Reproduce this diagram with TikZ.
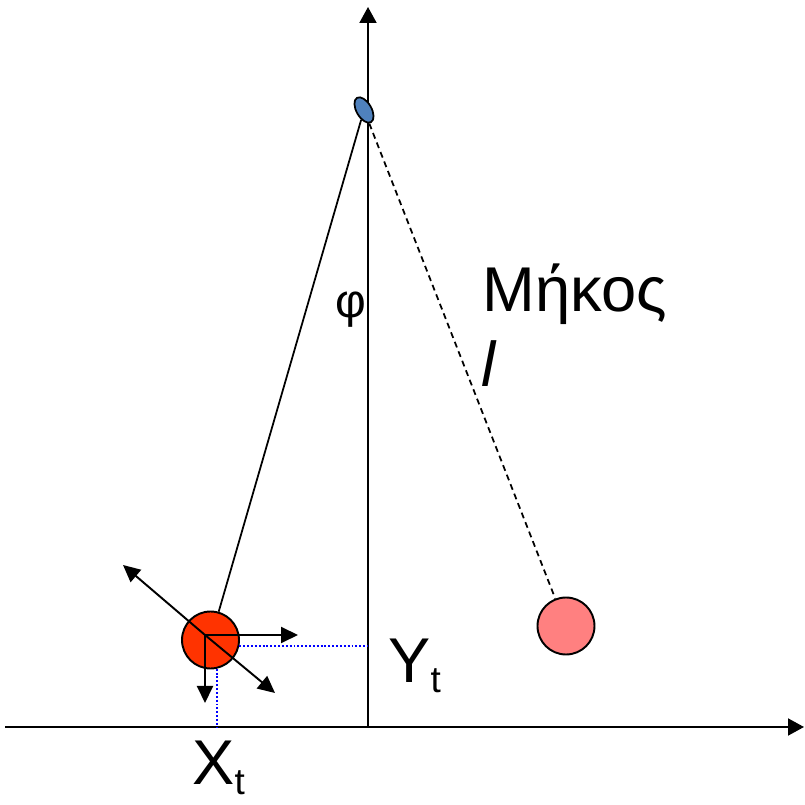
\documentclass[tikz,border=0pt]{standalone}
\usepackage{fontspec}
\setmainfont{Liberation Sans}
\usepackage{tikz}
\usetikzlibrary{arrows.meta,positioning,calc,shapes.geometric}
\definecolor{bobred}{RGB}{255,51,0}
\definecolor{bobpink}{RGB}{255,128,128}
\definecolor{pivotblue}{RGB}{79,129,189}
\newcommand{\lowsub}[1]{\raisebox{-0.2cm}{\fontsize{21}{21}\selectfont #1}}
\tikzset{
  axisline/.style={-{Triangle[length=0.32cm,width=0.34cm]},line width=1.1pt},
  forcearrow/.style={-{Triangle[length=0.34cm,width=0.32cm]},line width=1.1pt},
  bobnode/.style={draw,circle,line width=1.1pt,minimum size=1.14cm,inner sep=0pt},
  pivotdot/.style={draw,ellipse,fill=pivotblue,line width=1pt,minimum width=0.3cm,
    minimum height=0.56cm,inner sep=0pt},
  projline/.style={draw=blue,dash pattern=on 1.1pt off 1.1pt,line width=1.1pt},
  stringline/.style={line width=1pt},
  biglabel/.style={font=\fontsize{36}{40}\selectfont,inner sep=0pt}
}

\begin{document}
\begin{tikzpicture}
  \useasboundingbox (0,0) rectangle (16.1,16.1);
  % axes
  \coordinate (origin) at (7.36,1.56);
  \coordinate (xleft) at (0.1,1.56);
  \coordinate (xright) at (16.08,1.56);
  \coordinate (ytop) at (7.36,15.96);
  \draw[axisline] (xleft) -- (xright);
  \draw[axisline] (origin) -- (ytop);
  % pivot and the two bobs
  \node[pivotdot,rotate=30] (pivot) at (7.28,13.9) {};
  \node[bobnode,fill=bobred] (bobL) at (4.21,3.3) {};
  \node[bobnode,fill=bobpink] (bobR) at (11.32,3.58) {};
  \draw[stringline] (pivot) -- (bobL);
  \draw[stringline,dash pattern=on 3.4pt off 2.4pt] (pivot) -- (bobR);
  % projections onto the axes
  \draw[projline] (bobL.-11) -- (bobL.-11 -| origin);
  \draw[projline] (bobL.-77) -- (bobL.-77 |- origin);
  % forces on the bob
  \coordinate (fo) at (4.1,3.4);
  \coordinate (fright) at (5.96,3.4);
  \coordinate (fdown) at (4.1,2.04);
  \coordinate (fup) at (2.46,4.8);
  \coordinate (fdiag) at (5.5,2.24);
  \draw[forcearrow] (fo) -- (fright);
  \draw[forcearrow] (fo) -- (fdown);
  \draw[forcearrow] (fo) -- (fup);
  \draw[forcearrow] (fo) -- (fdiag);
  % labels
  \node[font=\fontsize{27}{28}\selectfont,inner sep=0pt] (phi) at (7.02,9.9) {φ};
  \node[biglabel,anchor=base west] (len) at (9.64,9.86) {Μήκος};
  \node[biglabel,anchor=base west] (lsym) at (9.62,8.36) {\itshape l};
  \node[biglabel,anchor=base west] (yt) at (7.76,2.44) {Y\lowsub{t}};
  \node[biglabel,anchor=base west] (xt) at (3.84,0.4) {X\lowsub{t}};
\end{tikzpicture}
\end{document}
